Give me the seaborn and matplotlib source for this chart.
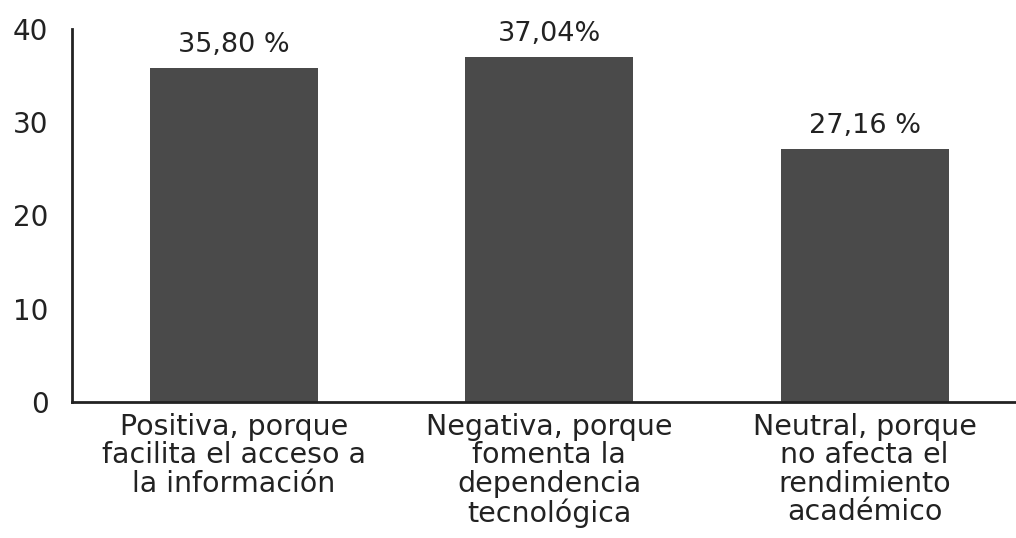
import numpy as np
import pandas as pd
import seaborn as sns
import matplotlib.pyplot as plt

sns.set_theme(style="white")
plt.rcParams['font.family'] = ['DejaVu Sans']

# data
categorias = ["Positiva, porque\nfacilita el acceso a\nla información",
              "Negativa, porque\nfomenta la\ndependencia\ntecnológica",
              "Neutral, porque\nno afecta el\nrendimiento\nacadémico"]
valores = [35.80, 37.04, 27.16]
etiquetas = ["35,80 %", "37,04%", "27,16 %"]
yticks = [0, 10, 20, 30, 40]

df = pd.DataFrame({"categoria": categorias, "valor": valores})

fig = plt.figure(figsize=(10.16, 5.38), dpi=100)
ax = fig.add_axes([0.0709, 0.253, 0.929, 0.693])
sns.barplot(data=df, x="categoria", y="valor", color="#4a4a4a",
            saturation=1, width=0.533, edgecolor="none", ax=ax)
ax.bar_label(ax.containers[0], labels=etiquetas, padding=7,
             fontsize=19.5, color="#222222")

ax.set_xlim(-0.514, 2.48)
ax.set_ylim(0, 40)
ax.set_yticks(yticks)
ax.set_xlabel("")
ax.set_ylabel("")
ax.tick_params(axis="y", length=0, pad=17, labelsize=20, labelcolor="#222222")
ax.tick_params(axis="x", length=0, pad=8, labelsize=20.5, labelcolor="#222222")
for lbl in ax.get_xticklabels():
    lbl.set_linespacing(1.02)
sns.despine(ax=ax, top=True, right=True)
for s in ["left", "bottom"]:
    ax.spines[s].set_color("#222222")
    ax.spines[s].set_linewidth(2)

fig.savefig("out.png", dpi=100)
